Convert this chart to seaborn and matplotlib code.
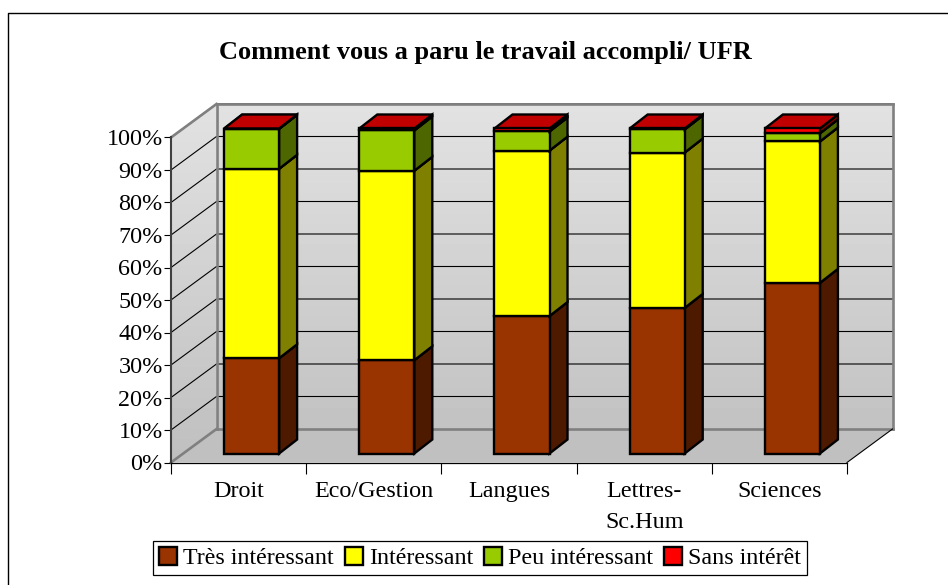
import numpy as np
import matplotlib
matplotlib.use("Agg")
import matplotlib.pyplot as plt
from matplotlib.lines import Line2D
from matplotlib.patches import Polygon, Rectangle
from matplotlib.transforms import IdentityTransform, offset_copy
import seaborn as sns

categories = ["Droit", "Eco/Gestion", "Langues", "Lettres-\nSc.Hum", "Sciences"]
tres_interessant = [29.3, 28.7, 42.3, 44.8, 52.5]
interessant = [58.3, 58.3, 50.9, 47.8, 43.5]
peu_interessant = [12.3, 12.4, 5.9, 7.1, 2.5]
sans_interet = [0.1, 0.6, 0.9, 0.3, 1.5]
series_names = ["Très intéressant", "Intéressant", "Peu intéressant", "Sans intérêt"]
y_ticks = [0, 10, 20, 30, 40, 50, 60, 70, 80, 90, 100]

front_colors = ["#993300", "#FFFF00", "#99CC00", "#FF0000"]
top_colors = ["#732600", "#BFBF00", "#739900", "#C00000"]
side_colors = ["#4D1A00", "#808000", "#4D6600", "#800000"]

W, H = 948, 585
plt.rcParams["font.family"] = ["Liberation Serif", "DejaVu Serif"]

fig = plt.figure(figsize=(W / 100, H / 100), dpi=100)
ax = fig.add_axes([171 / W, 1 - 462.5 / H, (847 - 171) / W, 325 / H])
ax.patch.set_visible(False)

# depth of the box and of the bars, in pixels
BOX = np.array([45.5, 33.5])
BAR_SHIFT = (13, 9)
BAR_DEPTH = np.array([18, 14])
BAR_LW = 1.7
bar_tf = offset_copy(ax.transData, fig, x=BAR_SHIFT[0], y=BAR_SHIFT[1], units="dots")

bottoms = np.zeros(len(categories))
all_series = [tres_interessant, interessant, peu_interessant, sans_interet]
bars = []
for name, vals, col in zip(series_names, all_series, front_colors):
    sns.barplot(x=categories, y=vals, bottom=bottoms, color=col, saturation=1, width=0.407,
                edgecolor="black", linewidth=BAR_LW, ax=ax)
    new = ax.patches[len(bars):]
    bars.extend(new)
    bottoms = bottoms + np.array(vals)

ax.set_xlim(-0.5, 4.5)
ax.set_ylim(0, 100)


def px(x, y, depth=0.0):
    return ax.transData.transform((x, y)) + depth * BOX


def poly(points, **kw):
    p = Polygon(points, closed=True, transform=IdentityTransform(), clip_on=False, **kw)
    ax.add_patch(p)
    return p


# walls, floor
back = [px(-0.5, 0, 1), px(4.5, 0, 1), px(4.5, 100, 1), px(-0.5, 100, 1)]
left = [px(-0.5, 0, 0), px(-0.5, 0, 1), px(-0.5, 100, 1), px(-0.5, 100, 0)]
floor = [px(-0.5, 0, 0), px(4.5, 0, 0), px(4.5, 0, 1), px(-0.5, 0, 1)]
x0, y0 = px(-0.5, 0, 0)
x1, y1 = px(4.5, 100, 1)
shade = np.linspace(0.885, 0.75, 64).reshape(-1, 1)
for wall in (back, left):
    clip = poly(wall, facecolor="none", edgecolor="none", zorder=0)
    im = ax.imshow(shade, cmap="gray", vmin=0, vmax=1, extent=(x0, x1, y0, y1), origin="upper",
                   aspect="auto", transform=IdentityTransform(), zorder=0.1, interpolation="bilinear")
    im.set_clip_box(fig.bbox)
    im.set_clip_path(clip)
ax.set_xlim(-0.5, 4.5)
ax.set_ylim(0, 100)
poly(floor, facecolor="#C0C0C0", edgecolor="none", zorder=0.2)

for t in y_ticks[1:]:
    a, b, c = px(-0.5, t, 0), px(-0.5, t, 1), px(4.5, t, 1)
    ax.plot([a[0], b[0], c[0]], [a[1], b[1], c[1]], color="black", lw=0.8,
            transform=IdentityTransform(), clip_on=False, zorder=0.5)

grey = dict(color="#808080", lw=1.9, transform=IdentityTransform(), clip_on=False, zorder=0.6)
for p, q in [(px(-0.5, 0, 1), px(-0.5, 100, 1)), (px(-0.5, 100, 0), px(-0.5, 100, 1)),
             (px(-0.5, 100, 1), px(4.5, 100, 1)), (px(4.5, 100, 1), px(4.5, 0, 1)),
             (px(-0.5, 0, 1), px(4.5, 0, 1)), (px(-0.5, 0, 0), px(-0.5, 0, 1))]:
    ax.plot([p[0], q[0]], [p[1], q[1]], **grey)
p, q = px(4.5, 0, 0), px(4.5, 0, 1)
ax.plot([p[0], q[0]], [p[1], q[1]], color="black", lw=0.8, transform=IdentityTransform(),
        clip_on=False, zorder=0.6)

# side and top faces hang on the bars seaborn drew
n = len(categories)
for s in range(len(all_series)):
    for c in range(n):
        bar = bars[s * n + c]
        z = 3 + s + c * 0.01
        bar.set_transform(bar_tf)
        bar.set_clip_on(False)
        bar.set_zorder(z + 0.3)
        bar.set_linewidth(BAR_LW)
        xa, xb = bar.get_x(), bar.get_x() + bar.get_width()
        ya, yb = bar.get_y(), bar.get_y() + bar.get_height()
        a = bar_tf.transform((xb, ya))
        b = bar_tf.transform((xb, yb))
        l = bar_tf.transform((xa, yb))
        poly([a, a + BAR_DEPTH, b + BAR_DEPTH, b], facecolor=side_colors[s], edgecolor="black",
             linewidth=BAR_LW, zorder=z, joinstyle="miter")
        poly([l, b, b + BAR_DEPTH, l + BAR_DEPTH], facecolor=top_colors[s], edgecolor="black",
             linewidth=BAR_LW, zorder=z + 0.1, joinstyle="miter")

sns.despine(ax=ax)
ax.spines["bottom"].set_linewidth(0.9)
ax.spines["bottom"].set_zorder(2)
ax.spines["left"].set_linewidth(1.5)
ax.spines["left"].set_color("#404040")
ax.spines["left"].set_zorder(2)
ax.set_yticks(y_ticks)
ax.set_yticklabels([f"{t}%" for t in y_ticks], fontsize=17.4)
ax.set_xticks(range(n))
ax.set_xticklabels(categories, fontsize=17.4, linespacing=1.65)
ax.set_xticks(np.arange(-0.5, 5), minor=True)
ax.tick_params(axis="x", which="major", length=0, pad=13)
ax.tick_params(axis="x", which="minor", length=8, width=0.8)
ax.tick_params(axis="y", length=5, width=0.8, pad=1)
ax.set_xlabel("")
ax.set_ylabel("")

fig.text(485.5 / W, 1 - 52 / H, "Comment vous a paru le travail accompli/ UFR", ha="center", va="center",
         fontsize=19, fontweight="bold")

handles = [Rectangle((0, 0), 1, 1, facecolor=c, edgecolor="black", linewidth=1.7) for c in front_colors]
leg = fig.legend(handles, series_names, loc="center", bbox_to_anchor=(480 / W, 1 - 558 / H), ncol=4,
                 fontsize=17.3, frameon=True, fancybox=False, edgecolor="black", framealpha=1,
                 handlelength=0.75, handleheight=0.75, handletextpad=0.25, columnspacing=0.45,
                 borderpad=0.25, borderaxespad=0)
leg.get_frame().set_linewidth(0.9)

# the frame of the chart is only visible on its top and left sides
fig.add_artist(Line2D([7.5 / W, 7.5 / W, 1], [0, 1 - 12.5 / H, 1 - 12.5 / H], transform=fig.transFigure,
                      color="black", lw=1.0))
fig.savefig("out.png", dpi=100)
